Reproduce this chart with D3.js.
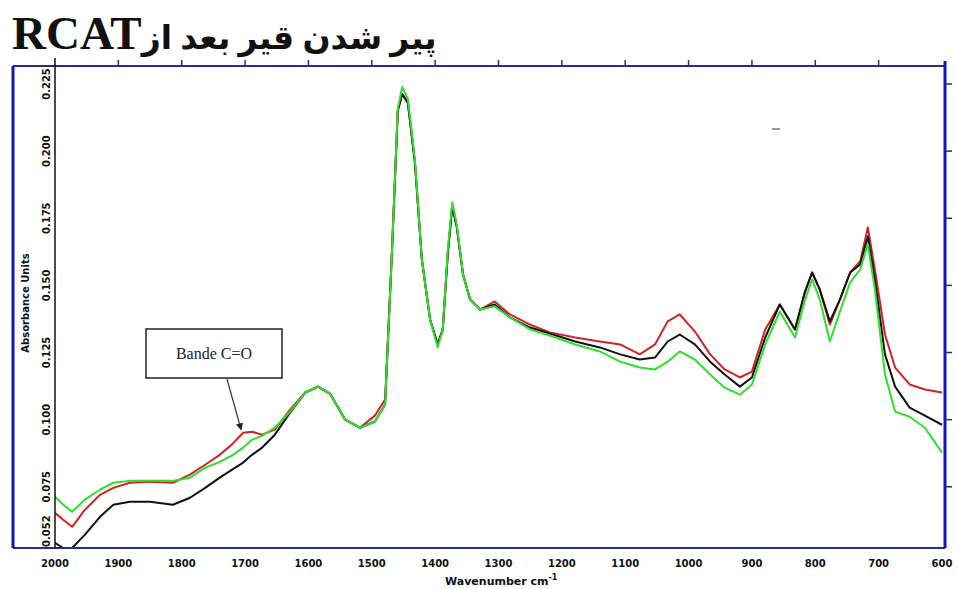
<!DOCTYPE html>
<html>
<head>
<meta charset="utf-8">
<script src="https://cdn.jsdelivr.net/npm/d3@7/dist/d3.min.js"></script>
<style>
  body { margin: 0; background: #fff; }
  svg { display: block; }
</style>
</head>
<body>
<div id="chart"></div>
<script>
// wavenumbers (cm-1)
var waveNumbers = [2000,1987,1973,1953,1929,1908,1882,1850,1814,1787,1763,1740,1721,1703,1689,1673,1653,1629,1605,1585,
  1566,1542,1519,1495,1479,1468,1459,1452,1443,1432,1421,1408,1396,1388,1380,1373,1366,1356,1345,1329,
  1306,1282,1250,1219,1179,1140,1108,1077,1053,1033,1014,990,966,943,919,900,879,856,832,816,
  805,793,777,761,745,729,717,706,690,674,651,627,600];

// absorbance, black curve
var blackValues = [0.0541,0.0522,0.0522,0.0571,0.0638,0.0683,0.0694,0.0694,0.0683,0.0709,0.0746,0.0784,0.0813,0.0840,0.0869,0.0896,0.0944,0.1026,0.1101,0.1123,
  0.1097,0.1000,0.0970,0.0993,0.1056,0.1634,0.2150,0.2213,0.2179,0.1959,0.1597,0.1373,0.1280,0.1336,0.1620,0.1795,0.1720,0.1541,0.1448,0.1410,
  0.1429,0.1381,0.1343,0.1321,0.1291,0.1269,0.1243,0.1224,0.1231,0.1291,0.1317,0.1280,0.1216,0.1168,0.1123,0.1157,0.1306,0.1429,0.1336,0.1478,
  0.1548,0.1485,0.1366,0.1448,0.1548,0.1578,0.1683,0.1522,0.1243,0.1123,0.1045,0.1015,0.0981];

// absorbance, red curve
var redValues = [0.0653,0.0627,0.0601,0.0664,0.0720,0.0746,0.0765,0.0769,0.0765,0.0795,0.0832,0.0869,0.0907,0.0951,0.0955,0.0944,0.0963,0.1037,0.1101,0.1123,
  0.1097,0.1000,0.0970,0.1015,0.1075,0.1634,0.2150,0.2213,0.2179,0.1959,0.1597,0.1373,0.1280,0.1336,0.1620,0.1795,0.1720,0.1541,0.1448,0.1410,
  0.1440,0.1392,0.1354,0.1325,0.1306,0.1291,0.1280,0.1243,0.1280,0.1366,0.1392,0.1328,0.1243,0.1187,0.1157,0.1179,0.1336,0.1429,0.1336,0.1478,
  0.1548,0.1485,0.1354,0.1448,0.1548,0.1590,0.1716,0.1560,0.1317,0.1194,0.1131,0.1112,0.1101];

// absorbance, green curve
var greenValues = [0.0713,0.0683,0.0657,0.0702,0.0739,0.0765,0.0772,0.0772,0.0772,0.0784,0.0821,0.0843,0.0866,0.0896,0.0925,0.0940,0.0970,0.1030,0.1101,0.1123,
  0.1097,0.1000,0.0970,0.0993,0.1056,0.1634,0.2157,0.2239,0.2194,0.1970,0.1597,0.1373,0.1269,0.1336,0.1634,0.1810,0.1728,0.1541,0.1448,0.1410,
  0.1422,0.1381,0.1336,0.1313,0.1280,0.1254,0.1216,0.1194,0.1187,0.1216,0.1254,0.1224,0.1168,0.1119,0.1093,0.1131,0.1280,0.1403,0.1306,0.1448,
  0.1522,0.1448,0.1291,0.1403,0.1511,0.1560,0.1653,0.1485,0.1168,0.1030,0.1011,0.0970,0.0877];

var xTicks = [2000,1900,1800,1700,1600,1500,1400,1300,1200,1100,1000,900,800,700,600];
var yTicks = [0.075,0.100,0.125,0.150,0.175,0.200,0.225];
var yMin = 0.0522, yMax = 0.2317;

var W = 957, H = 589;
var plot = { left: 55, right: 945, top: 66, bottom: 548 };

var svg = d3.select("#chart").append("svg")
    .attr("width", W)
    .attr("height", H);

var x = d3.scaleLinear().domain([2000, 600]).range([55, 942]);
var y = d3.scaleLinear().domain([yMin, yMax]).range([plot.bottom, plot.top]);

// Title (Persian, right-to-left)
var title = svg.append("text")
    .attr("x", 12)
    .attr("y", 49)
    .attr("direction", "rtl")
    .attr("text-anchor", "end")
    .style("font-family", "'Liberation Serif', 'DejaVu Sans', serif")
    .style("font-weight", "bold")
    .style("fill", "#111");
title.append("tspan").style("font-size", "33px").text("پیر شدن قیر بعد از");
title.append("tspan").style("font-size", "47px").text("RCAT");

svg.append("clipPath").attr("id", "clip")
  .append("rect")
    .attr("x", plot.left)
    .attr("y", plot.top)
    .attr("width", plot.right - plot.left)
    .attr("height", plot.bottom - plot.top);

// curves
var series = [
    { name: "red", values: redValues, color: "#d02424" },
    { name: "black", values: blackValues, color: "#111111" },
    { name: "green", values: greenValues, color: "#2ee02e" }
];

var line = d3.line()
    .x(function(d) { return x(d[0]); })
    .y(function(d) { return y(d[1]); });

svg.append("g").attr("clip-path", "url(#clip)")
  .selectAll("path")
  .data(series)
  .enter().append("path")
    .attr("d", function(s) {
        return line(waveNumbers.map(function(w, i) { return [w, s.values[i]]; }));
    })
    .style("fill", "none")
    .style("stroke", function(s) { return s.color; })
    .style("stroke-width", 2)
    .style("stroke-linejoin", "round");

// frame
var navy = "#2b2b86";
svg.append("line").attr("x1", 13).attr("x2", plot.right).attr("y1", plot.top).attr("y2", plot.top)
    .style("stroke", navy).style("stroke-width", 2);
svg.append("line").attr("x1", 13).attr("x2", plot.right).attr("y1", plot.bottom).attr("y2", plot.bottom)
    .style("stroke", navy).style("stroke-width", 2);
svg.append("line").attr("x1", 13).attr("x2", 13).attr("y1", plot.top).attr("y2", plot.bottom)
    .style("stroke", "#1515c0").style("stroke-width", 3);
svg.append("line").attr("x1", plot.right).attr("x2", plot.right).attr("y1", 61).attr("y2", plot.bottom)
    .style("stroke", "#1515c0").style("stroke-width", 3);
svg.append("line").attr("x1", plot.left).attr("x2", plot.left).attr("y1", 58).attr("y2", plot.bottom)
    .style("stroke", "#111").style("stroke-width", 1.5);

// top ticks
svg.append("g").selectAll("line")
    .data(xTicks.slice(1, -1))
    .enter().append("line")
    .attr("x1", function(d) { return x(d); })
    .attr("x2", function(d) { return x(d); })
    .attr("y1", plot.top)
    .attr("y2", plot.top - 6)
    .style("stroke", navy).style("stroke-width", 1.5);

// right ticks
svg.append("g").selectAll("line")
    .data(yTicks)
    .enter().append("line")
    .attr("x1", plot.right)
    .attr("x2", plot.right + 7)
    .attr("y1", function(d) { return y(d); })
    .attr("y2", function(d) { return y(d); })
    .style("stroke", navy).style("stroke-width", 1.5);

// x tick labels
svg.append("g").selectAll("text")
    .data(xTicks)
    .enter().append("text")
    .attr("x", function(d) { return x(d); })
    .attr("y", 567)
    .attr("text-anchor", "middle")
    .style("font-family", "'DejaVu Sans', sans-serif")
    .style("font-weight", "bold")
    .style("font-size", "10px")
    .style("fill", "#111")
    .text(String);

// y tick labels (rotated)
svg.append("g").selectAll("text")
    .data(yTicks)
    .enter().append("text")
    .attr("transform", function(d) { return "translate(50," + y(d) + ")rotate(-90)"; })
    .attr("text-anchor", "middle")
    .style("font-family", "'DejaVu Sans', sans-serif")
    .style("font-weight", "bold")
    .style("font-size", "10px")
    .style("fill", "#111")
    .text(function(d) { return d3.format(".3f")(d); });

svg.append("text")
    .attr("transform", "translate(50," + (plot.bottom - 1) + ")rotate(-90)")
    .attr("text-anchor", "start")
    .style("font-family", "'DejaVu Sans', sans-serif")
    .style("font-weight", "bold")
    .style("font-size", "10px")
    .style("fill", "#111")
    .text(d3.format(".3f")(yMin));

// axis titles
svg.append("text")
    .attr("transform", "translate(29,303)rotate(-90)")
    .attr("text-anchor", "middle")
    .style("font-family", "'DejaVu Sans', sans-serif")
    .style("font-weight", "bold")
    .style("font-size", "10px")
    .style("fill", "#111")
    .text("Absorbance Units");

var xt = svg.append("text")
    .attr("x", 445)
    .attr("y", 585)
    .style("font-family", "'DejaVu Sans', sans-serif")
    .style("font-weight", "bold")
    .style("font-size", "11px")
    .style("fill", "#111");
xt.append("tspan").text("Wavenumber cm");
xt.append("tspan").attr("dy", -5).style("font-size", "8px").text("-1");

// annotation
svg.append("defs").append("marker")
    .attr("id", "arrow")
    .attr("viewBox", "0 0 10 10")
    .attr("refX", 9).attr("refY", 5)
    .attr("markerWidth", 6).attr("markerHeight", 6)
    .attr("orient", "auto")
  .append("path")
    .attr("d", "M0,0L10,5L0,10Z")
    .style("fill", "#222");

svg.append("rect")
    .attr("x", 146).attr("y", 329)
    .attr("width", 136).attr("height", 49)
    .style("fill", "#fff")
    .style("stroke", "#222")
    .style("stroke-width", 1.5);

svg.append("text")
    .attr("x", 214).attr("y", 359)
    .attr("text-anchor", "middle")
    .style("font-family", "'Liberation Serif', serif")
    .style("font-size", "16px")
    .style("fill", "#222")
    .text("Bande C=O");

svg.append("line")
    .attr("x1", 227).attr("y1", 379)
    .attr("x2", x(1703) - 2).attr("y2", y(0.0951) - 3)
    .attr("marker-end", "url(#arrow)")
    .style("stroke", "#333")
    .style("stroke-width", 1.2);

// stray mark
svg.append("line")
    .attr("x1", 772).attr("x2", 780).attr("y1", 129).attr("y2", 129)
    .style("stroke", "#777").style("stroke-width", 1.5);
</script>
</body>
</html>
